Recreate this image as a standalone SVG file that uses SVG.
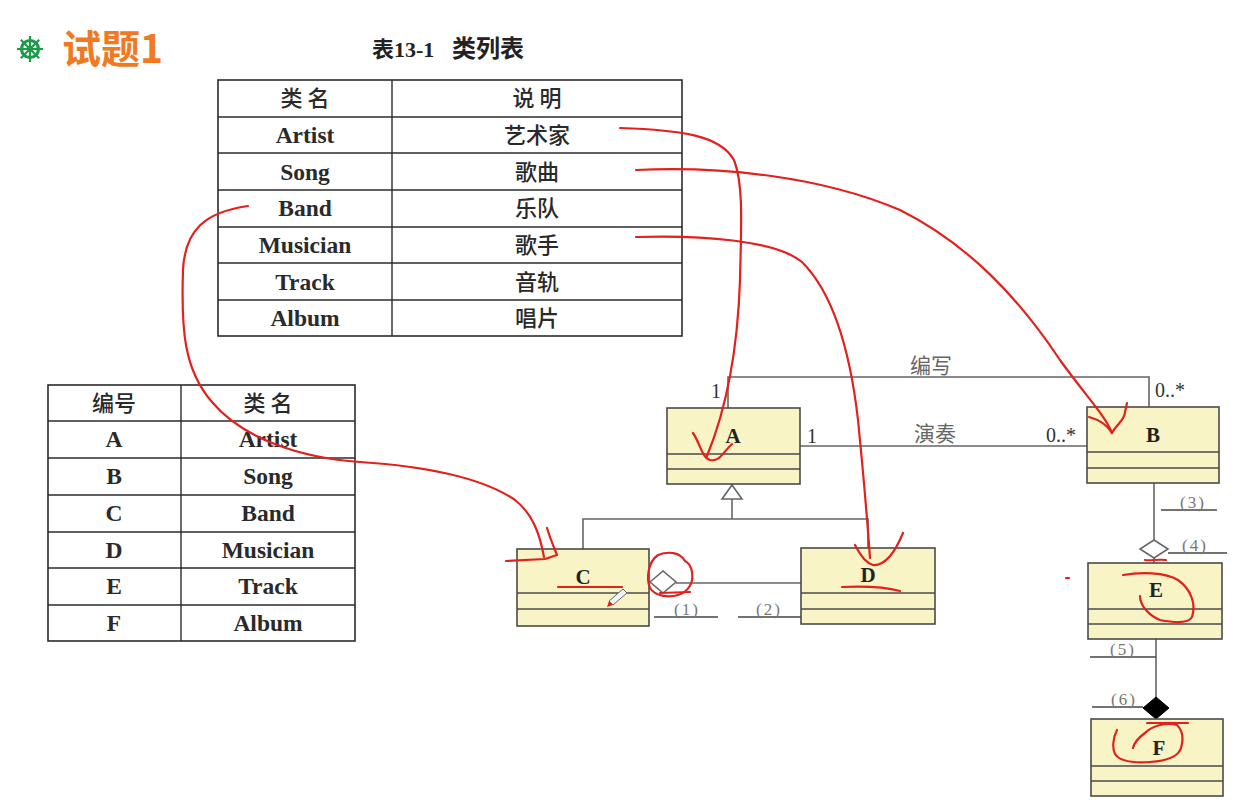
<svg xmlns="http://www.w3.org/2000/svg" width="1242" height="811" viewBox="0 0 1242 811">
<style>
.tb{fill:none;stroke:#2b2b2b;stroke-width:1.6}
.tl{stroke:#2b2b2b;stroke-width:1.4}
.en{font-family:"Liberation Serif",serif;font-weight:bold;font-size:23.5px;fill:#2a2a2a;text-anchor:middle}
.cn{font-family:"Noto Sans CJK SC",sans-serif;font-size:22px;font-weight:500;fill:#2a2a2a;text-anchor:middle}
.box{fill:#f8f4c6;stroke:#4a4a4a;stroke-width:1.6}
.sep{stroke:#4a4a4a;stroke-width:1.6}
.cl{font-family:"Liberation Serif",serif;font-weight:bold;font-size:21px;fill:#222;text-anchor:middle}
.ln{fill:none;stroke:#666;stroke-width:1.6}
.ul{stroke:#444;stroke-width:1.4}
.lab{font-family:"Liberation Serif",serif;font-size:20px;fill:#333}
.asc{font-family:"Noto Sans CJK SC",sans-serif;font-size:21px;fill:#666;text-anchor:middle}
.num{font-family:"Liberation Serif",serif;font-size:17px;fill:#777;text-anchor:middle;letter-spacing:2px}
.red{fill:none;stroke:#e3201b;stroke-width:2.2;stroke-linecap:round;stroke-linejoin:round}
</style>
<rect width="1242" height="811" fill="#ffffff"/>

<g id="title">
  <g transform="translate(30,49)" fill="#1f9a4b" stroke="#1f9a4b">
    <circle r="8.5" fill="none" stroke-width="3.2"/>
    <circle r="3.2" stroke="none"/>
    <g stroke-width="2.2">
      <line x1="0" y1="-13" x2="0" y2="13"/>
      <line x1="-13" y1="0" x2="13" y2="0"/>
      <line x1="-9.2" y1="-9.2" x2="9.2" y2="9.2"/>
      <line x1="-9.2" y1="9.2" x2="9.2" y2="-9.2"/>
    </g>
  </g>
  <text x="62" y="63" font-family="'Noto Sans CJK SC',sans-serif" font-weight="bold" font-size="39" fill="#f07a22">试题1</text>
  <text x="372" y="57" font-family="'Liberation Serif','Noto Sans CJK SC',serif" font-weight="bold" font-size="22" fill="#222">表13-1</text>
  <text x="452" y="57" font-family="'Noto Sans CJK SC',sans-serif" font-weight="bold" font-size="24" fill="#222">类列表</text>
</g>

<g id="table1">
  <rect class="tb" x="218" y="80" width="464" height="256"/>
  <line class="tl" x1="392" y1="80" x2="392" y2="336"/>
  <line class="tl" x1="218" y1="117" x2="682" y2="117"/>
  <line class="tl" x1="218" y1="153" x2="682" y2="153"/>
  <line class="tl" x1="218" y1="190" x2="682" y2="190"/>
  <line class="tl" x1="218" y1="227" x2="682" y2="227"/>
  <line class="tl" x1="218" y1="263" x2="682" y2="263"/>
  <line class="tl" x1="218" y1="300" x2="682" y2="300"/>
  <text class="cn" x="305" y="106">类 名</text>
  <text class="cn" x="537" y="106">说 明</text>
  <text class="en" x="305" y="143">Artist</text>
  <text class="cn" x="537" y="143">艺术家</text>
  <text class="en" x="305" y="180">Song</text>
  <text class="cn" x="537" y="180">歌曲</text>
  <text class="en" x="305" y="216">Band</text>
  <text class="cn" x="537" y="216">乐队</text>
  <text class="en" x="305" y="253">Musician</text>
  <text class="cn" x="537" y="253">歌手</text>
  <text class="en" x="305" y="290">Track</text>
  <text class="cn" x="537" y="290">音轨</text>
  <text class="en" x="305" y="326">Album</text>
  <text class="cn" x="537" y="326">唱片</text>
</g>

<g id="table2">
  <rect class="tb" x="48" y="385" width="307" height="256"/>
  <line class="tl" x1="181" y1="385" x2="181" y2="641"/>
  <line class="tl" x1="48" y1="421" x2="355" y2="421"/>
  <line class="tl" x1="48" y1="458" x2="355" y2="458"/>
  <line class="tl" x1="48" y1="495" x2="355" y2="495"/>
  <line class="tl" x1="48" y1="532" x2="355" y2="532"/>
  <line class="tl" x1="48" y1="568" x2="355" y2="568"/>
  <line class="tl" x1="48" y1="605" x2="355" y2="605"/>
  <text class="cn" x="114" y="411">编号</text>
  <text class="cn" x="268" y="411">类 名</text>
  <text class="en" x="114" y="447">A</text>
  <text class="en" x="268" y="447">Artist</text>
  <text class="en" x="114" y="484">B</text>
  <text class="en" x="268" y="484">Song</text>
  <text class="en" x="114" y="521">C</text>
  <text class="en" x="268" y="521">Band</text>
  <text class="en" x="114" y="558">D</text>
  <text class="en" x="268" y="558">Musician</text>
  <text class="en" x="114" y="594">E</text>
  <text class="en" x="268" y="594">Track</text>
  <text class="en" x="114" y="631">F</text>
  <text class="en" x="268" y="631">Album</text>
</g>

<g id="connectors">
  <polyline class="ln" points="728,408 728,377 1149,377 1149,407"/>
  <line class="ln" x1="800" y1="446" x2="1087" y2="446"/>
  <polygon points="732,485 742,499 722,499" fill="#fff" stroke="#666" stroke-width="1.6"/>
  <polyline class="ln" points="732,499 732,519"/>
  <polyline class="ln" points="583,549 583,519 868,519 868,548"/>
  <polygon points="650,582 663,571 676,582 663,593" fill="#fff" stroke="#666" stroke-width="1.6"/>
  <line class="ln" x1="676" y1="583" x2="801" y2="583"/>
  <line class="ul" x1="654" y1="617" x2="718" y2="617"/>
  <line class="ul" x1="738" y1="617" x2="801" y2="617"/>
  <line class="ln" x1="1154" y1="483" x2="1154" y2="540"/>
  <polygon points="1154,540 1168,549 1154,558 1140,549" fill="#fff" stroke="#666" stroke-width="1.6"/>
  <line class="ln" x1="1154" y1="558" x2="1154" y2="563"/>
  <line class="ul" x1="1161" y1="510" x2="1217" y2="510"/>
  <line class="ul" x1="1168" y1="553" x2="1227" y2="553"/>
  <line class="ln" x1="1156" y1="639" x2="1156" y2="697"/>
  <polygon points="1156,697 1169,708 1156,719 1143,708" fill="#000" stroke="#000" stroke-width="1"/>
  <line class="ul" x1="1090" y1="657" x2="1156" y2="657"/>
  <line class="ul" x1="1092" y1="707" x2="1143" y2="707"/>
  <text class="lab" x="716" y="398" text-anchor="middle">1</text>
  <text class="lab" x="812" y="443" text-anchor="middle">1</text>
  <text class="lab" x="1155" y="397">0..*</text>
  <text class="lab" x="1046" y="442">0..*</text>
  <text class="asc" x="931" y="373">编写</text>
  <text class="asc" x="935" y="441">演奏</text>
  <text class="num" x="687" y="615">(1)</text>
  <text class="num" x="769" y="615">(2)</text>
  <text class="num" x="1193" y="508">(3)</text>
  <text class="num" x="1195" y="551">(4)</text>
  <text class="num" x="1123" y="655">(5)</text>
  <text class="num" x="1124" y="705">(6)</text>
</g>

<g id="A">
  <rect class="box" x="667" y="408" width="133" height="76"/>
  <line class="sep" x1="667" y1="454" x2="800" y2="454"/>
  <line class="sep" x1="667" y1="469" x2="800" y2="469"/>
  <text class="cl" x="733" y="443">A</text>
</g>
<g id="B">
  <rect class="box" x="1087" y="407" width="132" height="76"/>
  <line class="sep" x1="1087" y1="452" x2="1219" y2="452"/>
  <line class="sep" x1="1087" y1="468" x2="1219" y2="468"/>
  <text class="cl" x="1153" y="442">B</text>
</g>
<g id="C">
  <rect class="box" x="517" y="549" width="132" height="77"/>
  <line class="sep" x1="517" y1="593" x2="649" y2="593"/>
  <line class="sep" x1="517" y1="609" x2="649" y2="609"/>
  <text class="cl" x="583" y="584">C</text>
</g>
<g id="D">
  <rect class="box" x="801" y="548" width="134" height="76"/>
  <line class="sep" x1="801" y1="593" x2="935" y2="593"/>
  <line class="sep" x1="801" y1="609" x2="935" y2="609"/>
  <text class="cl" x="868" y="582">D</text>
</g>
<g id="E">
  <rect class="box" x="1088" y="563" width="134" height="76"/>
  <line class="sep" x1="1088" y1="609" x2="1222" y2="609"/>
  <line class="sep" x1="1088" y1="624" x2="1222" y2="624"/>
  <text class="cl" x="1156" y="597">E</text>
</g>
<g id="F">
  <rect class="box" x="1091" y="719" width="132" height="77"/>
  <line class="sep" x1="1091" y1="766" x2="1223" y2="766"/>
  <line class="sep" x1="1091" y1="781" x2="1223" y2="781"/>
  <text class="cl" x="1159" y="755">F</text>
</g>

<g id="annotations">
  <path class="red" d="M620,128 C680,130 720,135 734,160 C744,185 741,230 740,280 C738,340 730,400 707,456"/>
  <path class="red" d="M693,433 C700,443 702,458 710,460 C720,462 723,452 732,444"/>
  <path class="red" d="M636,170 C720,166 820,176 900,210 C970,245 1020,300 1060,360 C1085,395 1105,415 1112,433"/>
  <path class="red" d="M1089,417 C1100,420 1108,426 1112,433 C1116,425 1125,420 1125,412 L1127,403"/>
  <path class="red" d="M636,237 C700,235 775,240 802,262 C832,292 850,350 858,420 C864,480 868,530 870,558"/>
  <path class="red" d="M855,545 C860,555 866,563 873,565 C886,566 896,550 903,533"/>
  <path class="red" d="M842,587 C865,586 885,587 900,591"/>
  <path class="red" d="M248,206 C205,212 185,230 183,270 C181,330 184,370 212,402 C242,438 300,458 360,462 C420,466 480,476 515,500 C533,514 540,535 544,557"/>
  <path class="red" d="M506,561 L545,559 L557,555 C553,545 550,538 547,528"/>
  <path class="red" d="M558,587 L622,587"/>
  <path class="red" d="M685,561 C680,552 668,551 658,555 C648,562 646,578 650,588 C655,596 668,598 678,595 C688,592 694,583 692,572 C691,566 689,563 685,561"/>
  <path class="red" d="M660,593 L690,592" stroke-width="3.5"/>
  <path class="red" d="M1123,575 C1140,572 1165,572 1178,580 C1192,590 1196,605 1192,617 C1188,624 1175,623 1160,620 C1148,615 1140,605 1140,596"/>
  <path class="red" d="M1145,560 C1150,561 1158,559 1166,560" stroke-width="1.6"/>
  <path class="red" d="M1066,578 L1069,578" stroke-width="1.6"/>
  <path class="red" d="M1117,730 C1113,738 1112,748 1115,754 C1120,762 1135,763 1150,762 C1165,761 1178,758 1181,748 C1184,738 1182,730 1177,725 C1165,722 1152,726 1145,733 C1138,738 1134,744 1133,748"/>
  <path class="red" d="M1147,723 L1188,723"/>
  <g id="pencil">
    <polygon points="623,589 627,593 613,605 609,601" fill="#f2f2f2" stroke="#666" stroke-width="1"/>
    <polygon points="609,601 613,605 607,607" fill="#e3201b"/>
  </g>
</g>
</svg>
